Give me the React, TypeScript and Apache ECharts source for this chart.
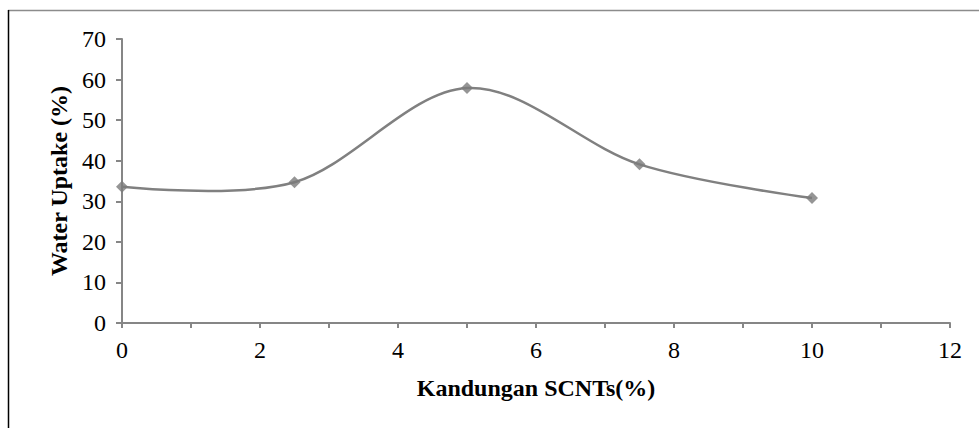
import React, { useEffect, useRef } from "react";
import * as echarts from "echarts";

const xValues = [0, 2.5, 5, 7.5, 10];
const waterUptake = [33.6, 34.7, 57.9, 39.1, 30.8];
const xTitle = "Kandungan SCNTs(%)";
const yTitle = "Water Uptake (%)";

export default function App() {
  const ref = useRef<HTMLDivElement>(null);
  useEffect(() => {
    const chart = echarts.init(ref.current!, null, { renderer: "svg" });
    const font = "'Liberation Serif', 'Times New Roman', serif";
    const points = xValues.map((x, i) => [x, waterUptake[i]]);
    const lineColor = "#808080";
    chart.setOption({
      animation: false,
      backgroundColor: "#fff",
      textStyle: { fontFamily: font },
      grid: { left: 122, right: 29, top: 39, bottom: 105 },
      xAxis: {
        type: "value",
        min: 0,
        max: 12,
        interval: 1,
        name: xTitle,
        nameLocation: "middle",
        nameGap: 53,
        nameTextStyle: { fontFamily: font, fontWeight: "bold", fontSize: 24, color: "#000" },
        axisLine: { show: true, lineStyle: { color: "#868686", width: 2 } },
        axisTick: { show: true, length: 5, lineStyle: { color: "#868686", width: 2 } },
        axisLabel: {
          fontFamily: font,
          fontSize: 24,
          color: "#000",
          margin: 15,
          formatter: (v: number) => (v % 2 === 0 ? String(v) : ""),
        },
        splitLine: { show: false },
      },
      yAxis: {
        type: "value",
        min: 0,
        max: 70,
        interval: 10,
        name: yTitle,
        nameLocation: "middle",
        nameGap: 48,
        nameRotate: 90,
        nameTextStyle: { fontFamily: font, fontWeight: "bold", fontSize: 24, color: "#000" },
        axisLine: { show: true, lineStyle: { color: "#868686", width: 2 } },
        axisTick: { show: true, length: 6, lineStyle: { color: "#868686", width: 2 } },
        axisLabel: { fontFamily: font, fontSize: 24, color: "#000", margin: 16 },
        splitLine: { show: false },
      },
      series: [
        {
          type: "custom",
          data: points,
          encode: { x: 0, y: 1 },
          z: 2,
          clip: false,
          renderItem: (params: any, api: any) => {
            if (params.dataIndex !== 0) return null;
            const pts = points.map((p) => api.coord(p));
            const n = pts.length;
            let d = `M${pts[0][0]},${pts[0][1]}`;
            for (let i = 0; i < n - 1; i++) {
              const p0 = pts[Math.max(0, i - 1)];
              const p1 = pts[i];
              const p2 = pts[i + 1];
              const p3 = pts[Math.min(n - 1, i + 2)];
              const c1x = i === 0 ? p1[0] : p1[0] + (p2[0] - p0[0]) / 6;
              const c1y = i === 0 ? p1[1] : p1[1] + (p2[1] - p0[1]) / 6;
              const c2x = i === n - 2 ? p2[0] : p2[0] - (p3[0] - p1[0]) / 6;
              const c2y = i === n - 2 ? p2[1] : p2[1] - (p3[1] - p1[1]) / 6;
              d += ` C${c1x},${c1y} ${c2x},${c2y} ${p2[0]},${p2[1]}`;
            }
            return {
              type: "path",
              shape: { pathData: d },
              style: { stroke: lineColor, lineWidth: 2.5, fill: "none" },
            };
          },
        },
        {
          type: "scatter",
          data: points,
          z: 3,
          symbol: "diamond",
          symbolSize: 12,
          itemStyle: { color: "#7a7a7a" },
        },
      ],
      graphic: [
        {
          type: "line",
          shape: { x1: 8, y1: 10.5, x2: 979, y2: 10.5 },
          style: { stroke: "#8c8c8c", lineWidth: 1.5 },
        },
        {
          type: "line",
          shape: { x1: 8.5, y1: 10, x2: 8.5, y2: 428 },
          style: { stroke: "#000", lineWidth: 1.5 },
        },
      ],
    });
    return () => chart.dispose();
  }, []);
  return (
    <div
      ref={ref}
      style={{ position: "fixed", left: 0, top: 0, width: 979, height: 428 }}
    />
  );
}
